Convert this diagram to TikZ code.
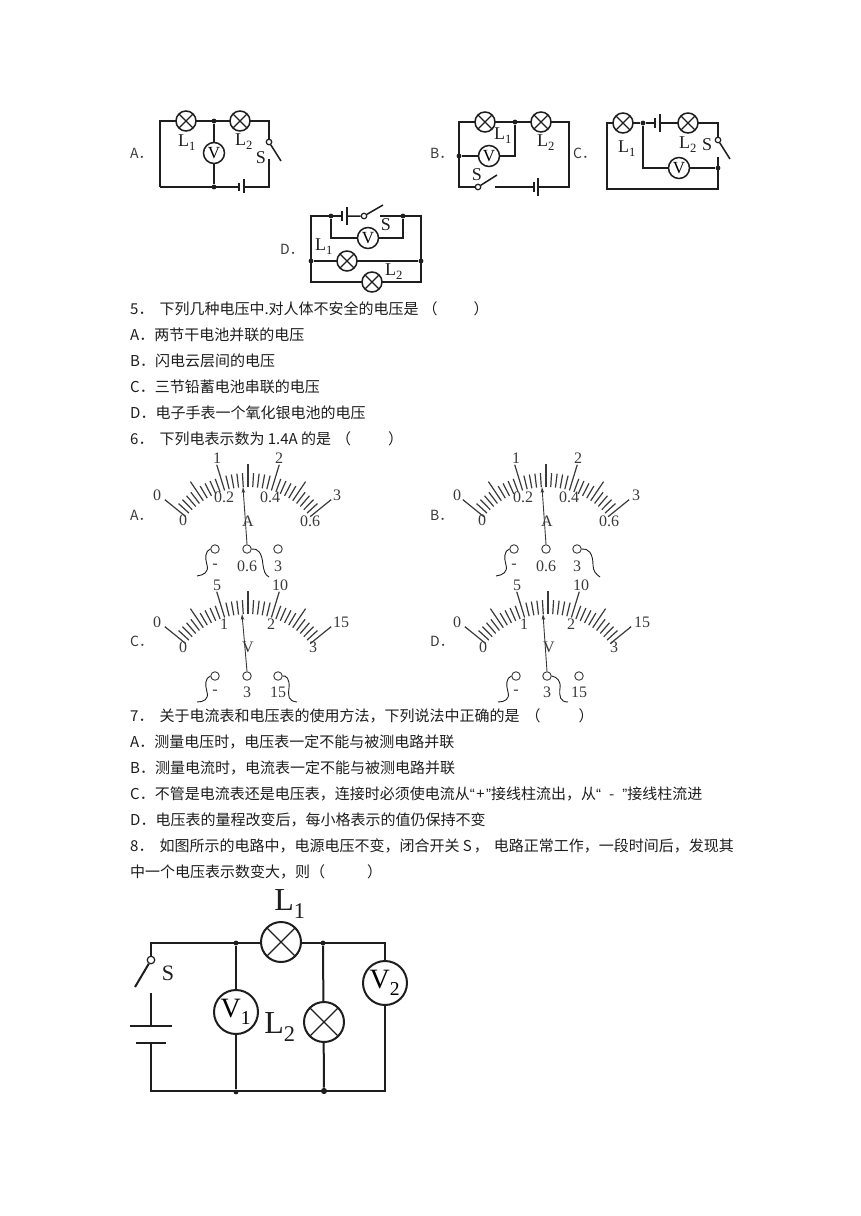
\documentclass[tikz,border=0pt]{standalone}
\usepackage{fontspec}
\setmainfont{Noto Sans CJK SC}
\newfontfamily\serifl{Liberation Serif}
\newfontfamily\latinl{Liberation Sans}
\usetikzlibrary{arrows.meta}
\definecolor{ink}{HTML}{1E1E1E}
\definecolor{soft}{HTML}{3A3A3A}
\newcommand{\lsub}[1]{\raisebox{-0.08em}{\textsubscript{#1}}}
\tikzset{
  wire/.style={draw=ink, line width=1.5pt},
  wirebig/.style={draw=ink, line width=2pt},
  dotn/.style={circle, fill=ink, inner sep=1.7pt},
  lamp/.style={circle, draw=ink, line width=1.5pt, fill=white, minimum size=20pt, inner sep=0pt,
    path picture={\draw[ink, line width=1.2pt]
      (path picture bounding box.north west)--(path picture bounding box.south east)
      (path picture bounding box.north east)--(path picture bounding box.south west);}},
  lampbig/.style={lamp, minimum size=40pt, line width=2pt},
  vm/.style={circle, draw=ink, line width=1.5pt, fill=white, minimum size=21pt, inner sep=0pt, font=\serifl\fontsize{17}{17}\selectfont},
  vmbig/.style={vm, minimum size=44pt, line width=2pt, font=\serifl\fontsize{28}{28}\selectfont},
  swt/.style={circle, draw=ink, line width=1.2pt, fill=white, minimum size=5.5pt, inner sep=0pt},
  lab/.style={text=ink, font=\serifl\fontsize{18}{18}\selectfont, inner sep=0pt},
  labbig/.style={text=ink, font=\serifl\fontsize{32}{32}\selectfont, inner sep=0pt},
  txt/.style={anchor=west, text=ink, inner sep=0pt, font=\fontsize{15}{18}\selectfont},
  opt/.style={anchor=west, text=soft, inner sep=0pt, font=\fontsize{14}{14}\selectfont},
  tick/.style={draw=soft, line width=1.2pt},
  needle/.style={draw=soft, line width=0.9pt, -{Stealth[length=6pt,width=3.5pt]}},
  lead/.style={draw=ink, line width=0.9pt},
  term/.style={circle, draw=soft, line width=0.9pt, minimum size=8.5pt, inner sep=0pt},
  dl/.style={text=soft, inner sep=0pt, font=\serifl\fontsize{16}{16}\selectfont}
}
% dial of a meter, drawn round the origin of the scope
\newcommand{\dialticks}{%
  \foreach \k in {0,...,30}{
    \pgfmathsetmacro{\ang}{-141+3.4*\k}
    \pgfmathtruncatemacro{\fv}{mod(\k,5)}
    \pgfmathtruncatemacro{\tn}{mod(\k,10)}
    \pgfmathsetmacro{\rad}{\fv==0 ? (\tn==0 ? 107 : 103) : 94}
    \draw[tick] (\ang:80) -- (\ang:\rad);
  }%
}
\begin{document}
\begin{tikzpicture}[x=1pt,y=-1pt]
  \useasboundingbox[fill=white] (0,0) rectangle (860,1216);

  % circuit A
  \node[opt] (optA) at (130,153) {A．};
  \coordinate (a1) at (160,121); \coordinate (a2) at (269,121);
  \coordinate (a3) at (269,159); \coordinate (a4) at (269,187);
  \coordinate (a5) at (160,187);
  \coordinate (ab1) at (239,187); \coordinate (ab2) at (244,187);
  \node[dotn] (aj1) at (214,121) {};
  \node[dotn] (aj2) at (214,187) {};
  \node[swt] (as) at (269,142) {};
  \coordinate (asb) at (281,161);
  \draw[wire] (a5)--(a1)--(a2)--(as);
  \draw[wire] (as)--(asb);
  \draw[wire] (a3)--(a4)--(ab2);
  \draw[wire] (ab1)--(a5);
  \draw[wire] (aj1)--(aj2);
  \draw[wire] (239,183)--(239,191);
  \draw[wire] (244,179)--(244,193);
  \node[lamp] (aL1) at (186,121) {};
  \node[lamp] (aL2) at (240,121) {};
  \node[vm] (aV) at (214,153) {V};
  \node[lab] (atL1) at (187,143) {L\lsub{1}};
  \node[lab] (atL2) at (244,142) {L\lsub{2}};
  \node[lab] (atS) at (261,158) {S};

  % circuit B
  \node[opt] (optB) at (430,153) {B．};
  \coordinate (b1) at (459,122); \coordinate (b2) at (569,122);
  \coordinate (b3) at (569,187); \coordinate (b4) at (495,187);
  \coordinate (b5) at (459,187); \coordinate (b6) at (515,156);
  \coordinate (bb1) at (534,187); \coordinate (bb2) at (538,187);
  \node[dotn] (bj1) at (515,122) {};
  \node[dotn] (bj2) at (459,156) {};
  \node[swt] (bs) at (478,187) {};
  \coordinate (bsb) at (497,175);
  \draw[wire] (bs)--(b5)--(b1)--(b2)--(b3)--(bb2);
  \draw[wire] (bb1)--(b4);
  \draw[wire] (bs)--(bsb);
  \draw[wire] (bj1)--(b6)--(bj2);
  \draw[wire] (534,182)--(534,192);
  \draw[wire] (538,178)--(538,196);
  \node[lamp] (bL1) at (485,122) {};
  \node[lamp] (bL2) at (541,122) {};
  \node[vm] (bV) at (489,156) {V};
  \node[lab] (btL1) at (503,136) {L\lsub{1}};
  \node[lab] (btL2) at (546,143) {L\lsub{2}};
  \node[lab] (btS) at (477,175) {S};

  % circuit C
  \node[opt] (optC) at (573,153) {C．};
  \coordinate (c1) at (607,123); \coordinate (c2) at (718,123);
  \coordinate (c3) at (718,157); \coordinate (c4) at (718,189);
  \coordinate (c5) at (607,189); \coordinate (c6) at (643,168);
  \coordinate (cb1) at (655,123); \coordinate (cb2) at (660,123);
  \node[dotn] (cj1) at (643,123) {};
  \node[dotn] (cj2) at (718,168) {};
  \node[swt] (cs) at (718,140) {};
  \coordinate (csb) at (730,159);
  \draw[wire] (cj1)--(c1)--(c5)--(c4)--(c3);
  \draw[wire] (cj1)--(cb1);
  \draw[wire] (cb2)--(c2)--(cs);
  \draw[wire] (cs)--(csb);
  \draw[wire] (cj1)--(c6)--(cj2);
  \draw[wire] (655,118)--(655,128);
  \draw[wire] (660,114)--(660,132);
  \node[lamp] (cL1) at (623,123) {};
  \node[lamp] (cL2) at (688,123) {};
  \node[vm] (cV) at (679,168) {V};
  \node[lab] (ctL1) at (627,149) {L\lsub{1}};
  \node[lab] (ctL2) at (688,145) {L\lsub{2}};
  \node[lab] (ctS) at (707,145) {S};

  % circuit D
  \node[opt] (optD) at (280,249) {D．};
  \coordinate (d1) at (311,216); \coordinate (d2) at (421,216);
  \coordinate (d3) at (421,282); \coordinate (d4) at (311,282);
  \coordinate (d5) at (380,216); \coordinate (d6) at (331,238);
  \coordinate (d7) at (403,238);
  \coordinate (db1) at (342,216); \coordinate (db2) at (347,216);
  \node[dotn] (dj1) at (331,216) {};
  \node[dotn] (dj2) at (403,216) {};
  \node[dotn] (dj3) at (311,261) {};
  \node[dotn] (dj4) at (421,261) {};
  \node[swt] (ds) at (364,216) {};
  \coordinate (dsb) at (383,205);
  \draw[wire] (db1)--(d1)--(d4)--(d3)--(d2)--(d5);
  \draw[wire] (db2)--(ds)--(dsb);
  \draw[wire] (dj1)--(d6)--(d7)--(dj2);
  \draw[wire] (dj3)--(dj4);
  \draw[wire] (342,211)--(342,221);
  \draw[wire] (347,207)--(347,225);
  \node[lamp] (dL1) at (347,261) {};
  \node[lamp] (dL2) at (372,282) {};
  \node[vm] (dV) at (368,238) {V};
  \node[lab] (dtL1) at (324,247) {L\lsub{1}};
  \node[lab] (dtL2) at (394,272) {L\lsub{2}};
  \node[lab] (dtS) at (386,225) {S};

  % question 5
  \node[txt] (q5) at (130,309) {5．\hspace{6pt}下列几种电压中.对人体不安全的电压是\hspace{4pt}（\hspace{36pt}）};
  \node[txt] (q5a) at (130,335) {A．两节干电池并联的电压};
  \node[txt] (q5b) at (130,361) {B．闪电云层间的电压};
  \node[txt] (q5c) at (130,387) {C．三节铅蓄电池串联的电压};
  \node[txt] (q5d) at (130,413) {D．电子手表一个氧化银电池的电压};
  \node[txt] (q6) at (130,439) {6．\hspace{6pt}下列电表示数为 1.4A 的是\hspace{5pt}（\hspace{37pt}）};

  % question 6
  \node[opt] (optmA) at (130,515) {A．};
  \node[opt] (optmB) at (430,515) {B．};
  \node[opt] (optmC) at (130,641) {C．};
  \node[opt] (optmD) at (430,641) {D．};

  \begin{scope}[shift={(248,567)}]
    \dialticks
    \foreach \p/\t [count=\n] in {{-31,-109}/1,{31,-109}/2,{-91,-72}/0,{89,-72}/3,{-65,-47}/0,{-24,-70}/0.2,{22,-70}/0.4,{62,-46}/0.6,{0,-46}/A}
      \node[dl] (ma\n) at (\p) {\t};
    \node[term] (maT1) at (-33,-18) {}; \node[term] (maT2) at (-1,-18) {}; \node[term] (maT3) at (30,-18) {};
    \node[dl] (mat1) at (-33,-1) {-}; \node[dl] (mat2) at (-1,-1) {0.6}; \node[dl] (mat3) at (30,-1) {3};
    \coordinate (maN) at (-5,-80);
    \draw[needle] (maT2.north) -- (maN);
    \draw[lead] (maT1.west) .. controls (-43,-16) and (-43,-9) .. (-41,-2) .. controls (-39,5) and (-44,8) .. (-51,9);
    \draw[lead] (maT2.east) .. controls (10,-19) and (14,-14) .. (15,-2) .. controls (16,4) and (17,8) .. (21,10);
  \end{scope}

  \begin{scope}[shift={(546,567)}]
    \dialticks
    \foreach \p/\t [count=\n] in {{-30,-109}/1,{32,-109}/2,{-89,-72}/0,{90,-72}/3,{-64,-47}/0,{-23,-70}/0.2,{23,-70}/0.4,{63,-46}/0.6,{1,-46}/A}
      \node[dl] (mb\n) at (\p) {\t};
    \node[term] (mbT1) at (-32,-18) {}; \node[term] (mbT2) at (0,-18) {}; \node[term] (mbT3) at (31,-18) {};
    \node[dl] (mbt1) at (-32,-1) {-}; \node[dl] (mbt2) at (0,-1) {0.6}; \node[dl] (mbt3) at (31,-1) {3};
    \coordinate (mbN) at (-4,-80);
    \draw[needle] (mbT2.north) -- (mbN);
    \draw[lead] (mbT1.west) .. controls (-42,-16) and (-42,-9) .. (-40,-2) .. controls (-38,5) and (-43,8) .. (-50,9);
    \draw[lead] (mbT3.east) .. controls (42,-19) and (47,-14) .. (47,-2) .. controls (47,4) and (50,7) .. (54,10);
  \end{scope}

  \begin{scope}[shift={(248,694)}]
    \dialticks
    \foreach \p/\t [count=\n] in {{-31,-109}/5,{32,-109}/10,{-91,-72}/0,{93,-72}/15,{-65,-47}/0,{-24,-70}/1,{23,-70}/2,{65,-47}/3,{0,-47}/V}
      \node[dl] (mc\n) at (\p) {\t};
    \node[term] (mcT1) at (-33,-18) {}; \node[term] (mcT2) at (-1,-18) {}; \node[term] (mcT3) at (30,-18) {};
    \node[dl] (mct1) at (-33,-2) {-}; \node[dl] (mct2) at (-1,-2) {3}; \node[dl] (mct3) at (30,-2) {15};
    \coordinate (mcN) at (-6,-80);
    \draw[needle] (mcT2.north) -- (mcN);
    \draw[lead] (mcT1.west) .. controls (-43,-16) and (-43,-9) .. (-41,-2) .. controls (-39,5) and (-44,8) .. (-51,8);
    \draw[lead] (mcT3.east) .. controls (38,-19) and (42,-15) .. (41,-6) .. controls (40,2) and (40,7) .. (49,8);
  \end{scope}

  \begin{scope}[shift={(548,694)}]
    \dialticks
    \foreach \p/\t [count=\n] in {{-31,-109}/5,{33,-109}/10,{-91,-72}/0,{94,-72}/15,{-65,-47}/0,{-24,-70}/1,{23,-70}/2,{66,-47}/3,{1,-47}/V}
      \node[dl] (md\n) at (\p) {\t};
    \node[term] (mdT1) at (-32,-18) {}; \node[term] (mdT2) at (-1,-18) {}; \node[term] (mdT3) at (31,-18) {};
    \node[dl] (mdt1) at (-32,-2) {-}; \node[dl] (mdt2) at (-1,-2) {3}; \node[dl] (mdt3) at (31,-2) {15};
    \coordinate (mdN) at (-5,-80);
    \draw[needle] (mdT2.north) -- (mdN);
    \draw[lead] (mdT1.west) .. controls (-42,-16) and (-42,-9) .. (-40,-2) .. controls (-38,5) and (-43,8) .. (-50,8);
    \draw[lead] (mdT2.east) .. controls (9,-17) and (13,-13) .. (12,-6) .. controls (11,2) and (12,8) .. (20,8);
  \end{scope}

  % questions 7 and 8
  \node[txt] (q7) at (130,716) {7．\hspace{6pt}关于电流表和电压表的使用方法，下列说法中正确的是\hspace{6pt}（\hspace{38pt}）};
  \node[txt] (q7a) at (130,742) {A．测量电压时，电压表一定不能与被测电路并联};
  \node[txt] (q7b) at (130,768) {B．测量电流时，电流表一定不能与被测电路并联};
  \node[txt] (q7c) at (130,794) {C．不管是电流表还是电压表，连接时必须使电流从{\latinl “}\hspace{1.5pt}+\hspace{1.5pt}{\latinl ”}接线柱流出，从{\latinl “}\hspace{8pt}-\hspace{8pt}{\latinl ”}接线柱流进};
  \node[txt] (q7d) at (130,820) {D．电压表的量程改变后，每小格表示的值仍保持不变};
  \node[txt] (q8) at (130,846) {8．\hspace{6pt}如图所示的电路中，电源电压不变，闭合开关 S\hspace{2pt}，\hspace{5pt}电路正常工作，一段时间后，发现其};
  \node[txt] (q8b) at (130,872) {中一个电压表示数变大，则（\hspace{42pt}）};

  % circuit of question 8
  \coordinate (e1) at (151,943); \coordinate (e2) at (385,943);
  \coordinate (e3) at (385,1091); \coordinate (e4) at (151,1091);
  \coordinate (e5) at (151,993); \coordinate (e6) at (151,1026);
  \coordinate (e7) at (151,1043); \coordinate (esb) at (135,987);
  \coordinate (ep1) at (130,1026); \coordinate (ep2) at (172,1026);
  \coordinate (ep3) at (136,1043); \coordinate (ep4) at (166,1043);
  \node[dotn] (ej1) at (236,943) {};
  \node[dotn] (ej2) at (323,943) {};
  \node[dotn] (ej3) at (236,1092) {};
  \node[dotn, inner sep=2.2pt] (ej4) at (324,1091) {};
  \node[swt, minimum size=7.5pt] (es) at (151,960) {};
  \draw[wirebig] (es)--(e1)--(e2)--(e3)--(e4)--(e7);
  \draw[wirebig] (es)--(esb);
  \draw[wirebig] (e5)--(e6);
  \draw[wirebig] (ep1)--(ep2);
  \draw[wirebig] (ep3)--(ep4);
  \draw[wirebig] (ej1)--(ej3);
  \draw[wirebig] (ej2)--(ej4);
  \node[lampbig] (eL1) at (281,942) {};
  \node[lampbig] (eL2) at (324,1022) {};
  \node[vmbig] (eV1) at (236,1012) {V\lsub{1}};
  \node[vmbig] (eV2) at (385,983) {V\lsub{2}};
  \node[labbig] (etL1) at (290,904) {L\lsub{1}};
  \node[labbig] (etL2) at (280,1027) {L\lsub{2}};
  \node[lab, font=\serifl\fontsize{22}{22}\selectfont] (etS) at (168,973) {S};
\end{tikzpicture}
\end{document}
